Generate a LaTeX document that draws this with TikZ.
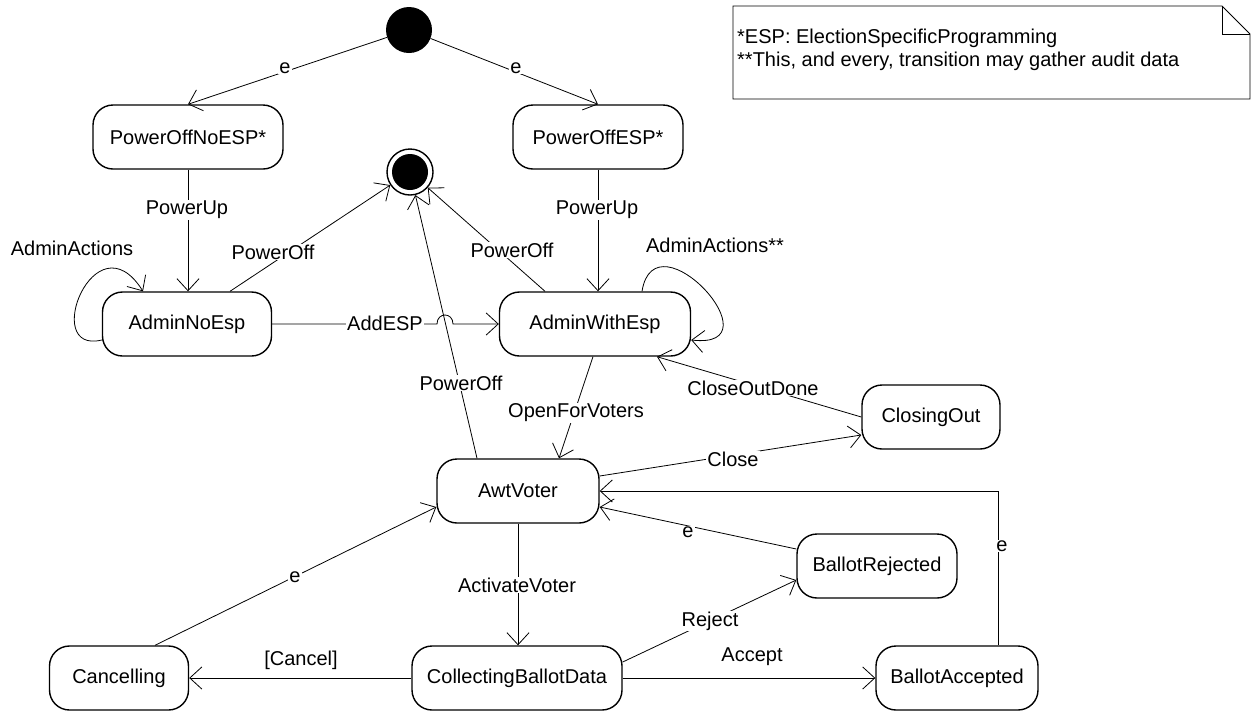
\documentclass[tikz,border=0pt]{standalone}
\usepackage{fontspec}
\setmainfont{Liberation Sans}
\usetikzlibrary{arrows.meta,calc}
\begin{document}
\begin{tikzpicture}[x=1pt,y=-1pt,
  state/.style={draw, line width=1.4pt, rounded corners=20pt, minimum height=64pt, inner sep=0pt, font=\fontsize{20}{24}\selectfont},
  edge/.style={line width=0.8pt, -{Straight Barb[length=12pt,width=22pt]}},
  plain/.style={line width=0.8pt},
  lbl/.style={fill=white, inner sep=1pt, font=\fontsize{20}{24}\selectfont},
  txt/.style={inner sep=0pt, font=\fontsize{20}{24}\selectfont},
  ]
\useasboundingbox (0,0) rectangle (1252,713);

% note
\draw[plain] (733,6) -- (1222,6) -- (1250,34) -- (1250,99) -- (733,99) -- cycle;
\draw[plain] (1222,6) -- (1222,34) -- (1250,34);
\node[txt, anchor=west] (n1) at (737,38) {*ESP: ElectionSpecificProgramming};
\node[txt, anchor=west] (n2) at (737,61) {**This, and every, transition may gather audit data};

% pseudo states
\node[circle, fill=black, minimum size=46pt, inner sep=0pt] (init) at (409,30) {};
\node[circle, draw, line width=1.4pt, minimum size=46pt, inner sep=0pt] (final) at (410,172) {};
\fill (final.center) circle (18pt);

% states
\node[state, minimum width=190pt] (PON) at (188,137) {PowerOffNoESP*};
\node[state, minimum width=170pt] (POE) at (598,137) {PowerOffESP*};
\node[state, minimum width=169pt] (ANE) at (187,324) {AdminNoEsp};
\node[state, minimum width=191pt] (AWE) at (595,324) {AdminWithEsp};
\node[state, minimum width=138pt] (CLO) at (931,417) {ClosingOut};
\node[state, minimum width=162pt] (AWV) at (518,491) {AwtVoter};
\node[state, minimum width=160pt] (BRJ) at (877,566) {BallotRejected};
\node[state, minimum width=139pt] (CAN) at (119,678) {Cancelling};
\node[state, minimum width=210pt] (CBD) at (517,678) {CollectingBallotData};
\node[state, minimum width=162pt] (BAC) at (957,678) {BallotAccepted};

\coordinate (j1) at (437,324);
\coordinate (j2) at (453,324);

% transitions
\draw[edge] (init) -- (PON.north);
\draw[edge] (init) -- (POE.north);
\draw[edge] (PON.south) -- (PON.south |- ANE.north);
\draw[edge] (POE.south) -- (POE.south |- AWE.north);
\draw[edge] ([yshift=-16pt]ANE.west) .. controls (40,355) and (95,215) .. ([xshift=-44pt]ANE.north);
\draw[edge] ([xshift=47pt]AWE.north) .. controls (655,212) and (780,350) .. ([yshift=-16pt]AWE.east);
\draw[edge] ([xshift=43pt]ANE.north) -- (final);
\draw[edge] ([xshift=-50pt]AWE.north) -- (final);
\draw[edge] ([xshift=-41pt]AWV.north) -- (final);
\draw[edge] (ANE.east) -- (j1) .. controls (437,312) and (453,312) .. (j2) -- (AWE.west);
\draw[edge] ([xshift=-2pt]AWE.south) -- ([xshift=41pt]AWV.north);
\draw[edge] (CLO.west) -- ([xshift=62pt]AWE.south);
\draw[edge] ([yshift=15pt]AWV.east) -- ([yshift=-18pt]CLO.west);
\draw[edge] ([yshift=17pt]BRJ.west) -- ([yshift=-16pt]AWV.east);
\draw[edge] ([xshift=41pt]BAC.north) |- (AWV.east);
\draw[edge] (AWV.south) -- (AWV.south |- CBD.north);
\draw[edge] ([yshift=16pt]CBD.east) -- ([yshift=-14pt]BRJ.west);
\draw[edge] (CBD.east) -- (BAC.west);
\draw[edge] (CBD.west) -- (CAN.east);
\draw[edge] ([xshift=36pt]CAN.north) -- ([yshift=-16pt]AWV.west);

% labels
\node[lbl] (l1) at (285,68) {e};
\node[lbl] (l2) at (516,68) {e};
\node[lbl] (l3) at (187,210) {PowerUp};
\node[lbl] (l4) at (597,210) {PowerUp};
\node[txt] (l5) at (72,248) {AdminActions};
\node[txt] (l6) at (715,245) {AdminActions**};
\node[lbl] (l7) at (273,252) {PowerOff};
\node[lbl] (l8) at (512,250) {PowerOff};
\node[lbl] (l9) at (461,383) {PowerOff};
\node[lbl] (l10) at (385,323) {AddESP};
\node[lbl] (l11) at (576,413) {OpenForVoters};
\node[lbl] (l12) at (753,388) {CloseOutDone};
\node[lbl] (l13) at (733,459) {Close};
\node[lbl] (l14) at (688,532) {e};
\node[lbl] (l15) at (1002,546) {e};
\node[lbl] (l16) at (517,585) {ActivateVoter};
\node[lbl] (l17) at (710,621) {Reject};
\node[txt] (l18) at (752,657) {Accept};
\node[txt] (l19) at (301,660) {[Cancel]};
\node[lbl] (l20) at (295,577) {e};
\end{tikzpicture}
\end{document}
